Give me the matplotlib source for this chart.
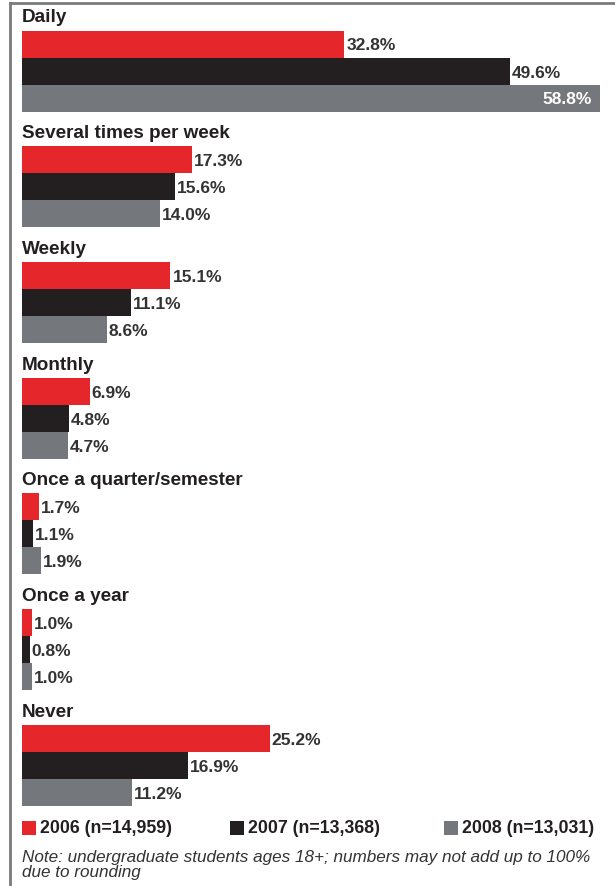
import matplotlib
matplotlib.use("Agg")
import matplotlib.pyplot as plt
from matplotlib.lines import Line2D
from matplotlib.patches import Rectangle

# data
categories = ["Daily", "Several times per week", "Weekly", "Monthly",
              "Once a quarter/semester", "Once a year", "Never"]
v2006 = [32.8, 17.3, 15.1, 6.9, 1.7, 1.0, 25.2]
v2007 = [49.6, 15.6, 11.1, 4.8, 1.1, 0.8, 16.9]
v2008 = [58.8, 14.0, 8.6, 4.7, 1.9, 1.0, 11.2]
series_labels = ["2006 (n=14,959)", "2007 (n=13,368)", "2008 (n=13,031)"]
note = "Note: undergraduate students ages 18+; numbers may not add up to 100%\ndue to rounding"

colors = ["#e5262b", "#231f20", "#74777c"]
label_color = "#333333"
font = ["Liberation Sans", "DejaVu Sans"]

W, H = 615, 887
fig = plt.figure(figsize=(W / 100, H / 100), dpi=100)
fig.patch.set_facecolor("white")

# axes: x in percent, y in pixel rows from top
x0, x1 = 22, 600
ax = fig.add_axes([x0 / W, 0, (x1 - x0) / W, 1])
ax.set_xlim(0, max(v2008))
ax.set_ylim(H, 0)
ax.axis("off")

px = max(v2008) / (x1 - x0)  # percent per pixel
pitch = 115.7
bar_h = 27

for i, cat in enumerate(categories):
    top = 18 + pitch * i
    ax.text(0, top, cat, fontsize=13.6, fontweight="bold", color="#231f20",
            family=font, ha="left", va="center")
    for k, vals in enumerate([v2006, v2007, v2008]):
        yc = top + 27 + bar_h * k
        v = vals[i]
        ax.barh(yc, v, height=bar_h, left=0, color=colors[k], edgecolor="none")
        txt = f"{v:.1f}%"
        if v >= max(v2008) - 1:
            ax.text(v - 8 * px, yc + 1, txt, fontsize=12.5, fontweight="bold",
                    color="white", family=font, ha="right", va="center")
        else:
            ax.text(v + 2 * px, yc + 1, txt, fontsize=12.5, fontweight="bold",
                    color=label_color, family=font, ha="left", va="center")

# legend
leg_x = [22, 230, 444]
leg_y = 829
for k, lab in enumerate(series_labels):
    fig.add_artist(Rectangle((leg_x[k] / W, 1 - (leg_y + 7) / H), 14 / W, 14 / H,
                             transform=fig.transFigure, color=colors[k], lw=0))
    fig.text((leg_x[k] + 18) / W, 1 - leg_y / H, lab, fontsize=12.8,
             fontweight="bold", color="#231f20", family=font,
             ha="left", va="center")

# note
fig.text(22 / W, 1 - 850 / H, note, fontsize=12.3, style="italic",
         color="#333333", family=font, ha="left", va="top", linespacing=1.0)

# frame lines
fig.add_artist(Line2D([10 / W, 1], [1 - 4 / H, 1 - 4 / H], color="#7a7a7a",
                      lw=2, transform=fig.transFigure))
fig.add_artist(Line2D([10 / W, 10 / W], [0, 1 - 4 / H], color="#7a7a7a",
                      lw=2, transform=fig.transFigure))

fig.savefig("out.png", dpi=100)
